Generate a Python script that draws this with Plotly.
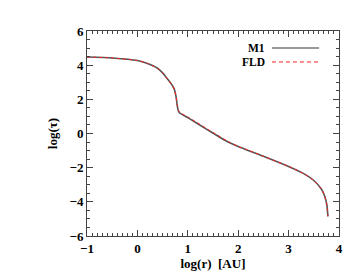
import plotly.graph_objects as go

log_r = [-1.0, -0.5, 0.0, 0.2, 0.4, 0.5, 0.6, 0.7, 0.74, 0.77, 0.79, 0.81, 0.84, 1.0, 1.4, 1.8, 2.0, 2.5, 3.0, 3.3, 3.5, 3.65, 3.72, 3.76, 3.78]
tau_m1 = [4.48, 4.42, 4.27, 4.10, 3.82, 3.55, 3.18, 2.78, 2.52, 2.10, 1.65, 1.35, 1.20, 0.93, 0.20, -0.50, -0.76, -1.33, -1.93, -2.35, -2.75, -3.25, -3.70, -4.20, -4.85]
tau_fld = [4.48, 4.42, 4.27, 4.10, 3.82, 3.55, 3.18, 2.78, 2.52, 2.10, 1.66, 1.37, 1.23, 0.97, 0.24, -0.47, -0.75, -1.33, -1.93, -2.35, -2.75, -3.25, -3.70, -4.20, -4.85]
x_ticks = [-1, 0, 1, 2, 3, 4]
y_ticks = [-6, -4, -2, 0, 2, 4, 6]
series_names = ["M1", "FLD"]

font = dict(family="Liberation Serif", size=13, color="black", weight="bold")

fig = go.Figure()
fig.add_trace(go.Scatter(x=log_r, y=tau_m1, mode="lines", name=series_names[0],
                         line=dict(color="#555555", width=1.6, shape="spline", smoothing=0.6), showlegend=False))
fig.add_trace(go.Scatter(x=log_r, y=tau_fld, mode="lines", name=series_names[1],
                         line=dict(color="#ff2020", width=1, dash="3px,3px", shape="spline", smoothing=0.6), showlegend=False))

axis_common = dict(showline=True, linecolor="#444444", linewidth=1, mirror="ticks",
                   ticks="inside", ticklen=6, tickcolor="#444444", showgrid=False,
                   zeroline=False, tickfont=font)
fig.update_xaxes(range=[-1, 4], tickvals=x_ticks, ticktext=[str(v).replace("-", "\u2212") for v in x_ticks],
                 minor=dict(ticks="inside", ticklen=3, dtick=0.1, tickcolor="#444444"),
                 title=dict(text="log(r)  [AU]", font=font, standoff=2), **axis_common)
fig.update_yaxes(range=[-6, 6], tickvals=y_ticks, ticktext=[str(v).replace("-", "\u2212") for v in y_ticks],
                 minor=dict(ticks="inside", ticklen=3, dtick=0.5, tickcolor="#444444"),
                 title=dict(text="log(\u03c4)", font=font, standoff=8), **axis_common)
fig.update_layout(width=354, height=273, margin=dict(l=79, r=23, t=23, b=45),
                  paper_bgcolor="white", plot_bgcolor="white", font=font)

# manual legend (text left of sample line, as in the original)
legend_font = dict(family="Liberation Serif", size=11.5, color="black", weight="bold")
legend_rows = [(0.917, "#999999", 2, "solid"), (0.849, "#ff2020", 1, "4px,3px")]
for name, (yy, col, w, dash) in zip(series_names, legend_rows):
    fig.add_annotation(x=0.71, y=yy, xref="paper", yref="paper", text=name,
                       showarrow=False, xanchor="right", yanchor="middle", font=legend_font,
                       borderpad=0)
    fig.add_shape(type="line", xref="paper", yref="paper", x0=0.734, x1=0.921, y0=yy, y1=yy,
                  line=dict(color=col, width=w, dash=dash))

fig.write_html("out.html")
